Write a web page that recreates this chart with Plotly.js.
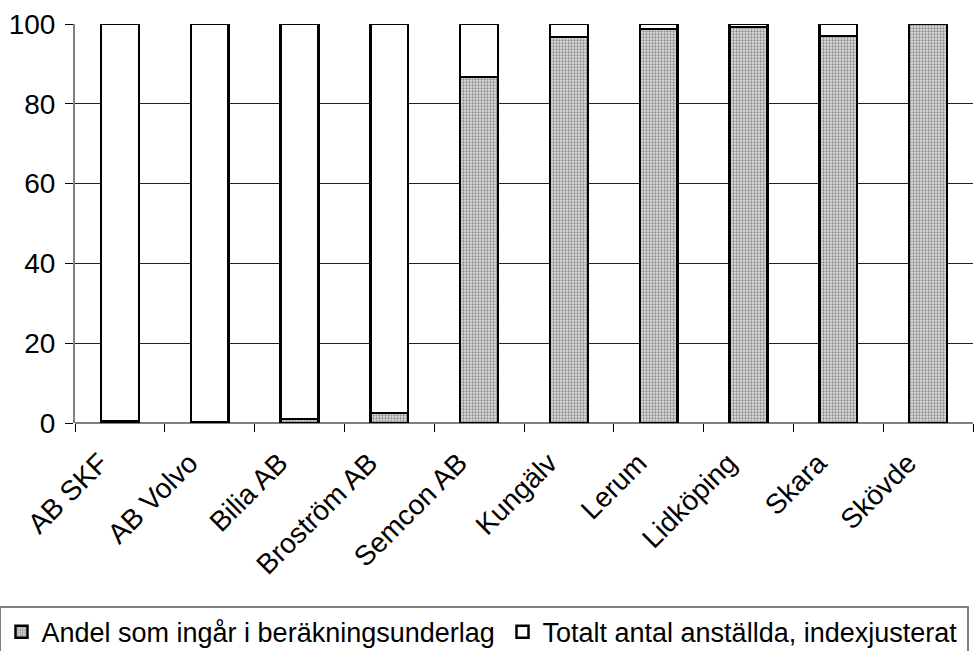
<!DOCTYPE html>
<html>
<head>
<meta charset="utf-8">
<script src="https://cdn.plot.ly/plotly-3.0.1.min.js"></script>
<style>html,body{margin:0;padding:0;background:#fff;}#chart{width:975px;height:651px;}</style>
</head>
<body>
<div id="chart"></div>
<script>
const categories = ["AB SKF", "AB Volvo", "Bilia AB", "Broström AB", "Semcon AB", "Kungälv", "Lerum", "Lidköping", "Skara", "Skövde"];
const andel = [0.5, 0.3, 1.0, 2.5, 86.7, 96.8, 98.8, 99.3, 97.0, 100];
const totalt = [99.5, 99.7, 99.0, 97.5, 13.3, 3.2, 1.2, 0.7, 3.0, 0];
const seriesNames = ["Andel som ingår i beräkningsunderlag", "Totalt antal anställda, indexjusterat"];
const yTicks = [0, 20, 40, 60, 80, 100];

const font = "Liberation Sans, Arial, sans-serif";
const traces = [
  {
    type: "bar", x: categories, y: andel, name: seriesNames[0], legendwidth: 456,
    marker: {
      color: "#d8d8d8",
      pattern: {shape: ".", fgcolor: "#8c8c8c", bgcolor: "#e0e0e0", size: 3, solidity: 0.45},
      line: {color: "#000", width: 2.5}
    }
  },
  {
    type: "bar", x: categories, y: totalt, name: seriesNames[1], legendwidth: 420,
    marker: {color: "#ffffff", line: {color: "#000", width: 2.5}}
  }
];
const layout = {
  width: 975, height: 651,
  barmode: "stack", bargap: 0.58,
  margin: {l: 75, r: 2, t: 24, b: 228, autoexpand: false},
  paper_bgcolor: "#fff", plot_bgcolor: "#fff",
  font: {family: font, size: 28, color: "#000"},
  showlegend: true,
  legend: {
    orientation: "h", x: -0.08352, y: -0.459, xanchor: "left", yanchor: "top",
    bordercolor: "#808080", borderwidth: 1.5, font: {family: font, size: 27},
    traceorder: "normal", itemwidth: 30
  },
  xaxis: {
    type: "category", tickangle: -45, showline: false, ticks: "outside",
    tickson: "boundaries", ticklen: 8, tickcolor: "#000", tickwidth: 1,
    ticklabelstandoff: 17, ticklabelshift: -20,
    tickfont: {family: font, size: 28}, showgrid: false, zeroline: false
  },
  yaxis: {
    range: [0, 100], tickvals: yTicks, ticktext: yTicks.map(String),
    showline: true, linecolor: "#808080", linewidth: 2,
    ticks: "outside", ticklen: 8, tickcolor: "#000", tickwidth: 1,
    ticklabelstandoff: 4,
    showgrid: true, gridcolor: "#222", gridwidth: 1,
    zeroline: true, zerolinecolor: "#808080", zerolinewidth: 2,
    tickfont: {family: font, size: 28}
  }
};
Plotly.newPlot("chart", traces, layout, {displayModeBar: false, staticPlot: true});
</script>
</body>
</html>
